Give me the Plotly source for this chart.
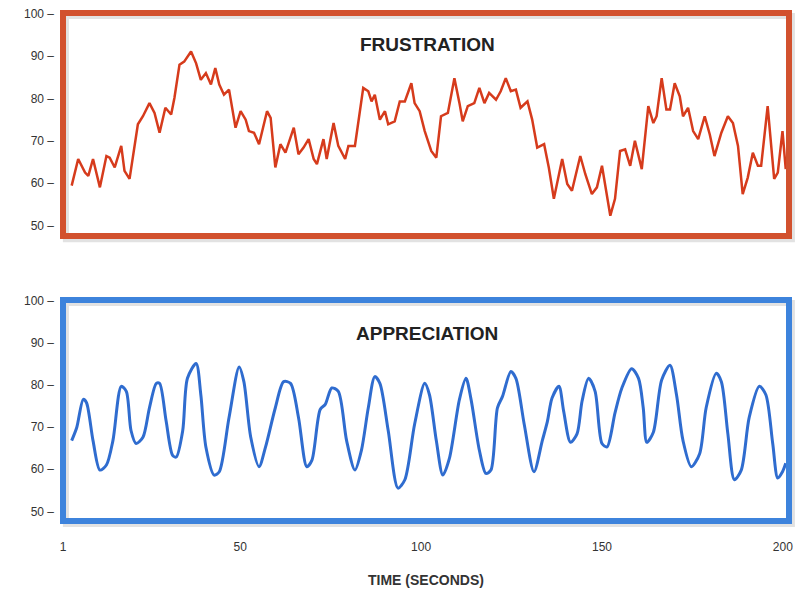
import plotly.graph_objects as go

# ---- data ----
time_frus = [3.4,5.2,7.1,8.0,9.3,11.2,13.0,13.9,15.3,17.1,18.0,19.4,21.7,23.1,24.9,26.3,27.7,29.3,30.9,31.8,
             33.2,34.5,36.4,37.8,39.1,40.5,41.9,43.1,44.2,45.5,46.9,48.7,50.1,51.5,52.4,53.8,55.2,57.4,58.4,59.7,
             61.1,62.5,64.8,66.1,67.5,68.9,70.3,71.2,73.0,73.9,75.8,77.1,79.0,79.9,81.7,84.0,85.4,86.3,87.2,88.6,
             90.0,90.9,92.7,94.1,95.5,97.3,98.2,99.6,101.0,102.8,104.2,105.5,107.4,109.2,110.6,111.5,112.9,114.7,116.1,117.5,
             118.8,120.7,122.0,123.4,124.8,126.2,127.5,129.4,130.7,132.1,134.0,135.3,136.7,138.1,139.0,140.4,141.7,144.0,145.4,147.2,
             148.6,150.0,152.3,153.6,155.0,156.4,157.8,159.1,161.0,162.8,164.2,165.1,166.5,167.8,168.8,170.1,171.5,172.4,173.8,175.2,
             176.6,178.4,179.8,181.1,183.0,184.8,186.2,187.6,188.9,190.3,191.7,193.1,194.0,195.8,197.6,198.6,199.9,200.8]
frustration = [59.4,65.7,62.5,61.7,65.7,59.0,66.4,66.0,63.7,68.8,62.9,61.0,73.9,75.8,78.9,76.6,71.9,77.8,76.2,80.1,
               88.0,88.7,91.1,88.3,84.4,86.0,83.3,87.2,83.3,80.9,82.1,73.1,77.0,75.0,72.3,71.9,69.2,77.0,75.4,63.7,
               69.2,67.2,73.1,66.8,68.4,70.4,65.7,64.5,70.4,65.7,74.2,68.8,65.7,68.8,68.8,82.5,81.7,79.3,80.9,75.0,
               77.0,73.9,74.6,79.3,79.3,83.6,78.9,77.0,72.3,67.6,66.0,75.8,76.6,84.8,78.9,74.6,78.2,78.9,82.5,78.9,
               81.3,79.7,81.7,84.8,81.7,82.1,77.8,79.3,75.0,68.4,69.2,63.7,56.3,62.1,65.7,59.8,58.2,66.4,62.1,57.4,
               59.0,64.1,52.3,56.3,67.6,68.0,64.1,70.0,63.3,78.2,74.2,75.8,84.8,77.4,77.4,83.6,80.5,75.8,77.8,72.3,
               70.4,75.8,71.5,66.4,71.9,75.8,74.2,68.8,57.4,61.3,67.2,64.1,64.1,78.2,61.0,62.5,72.3,63.3]

time_appr = [3.4,4.8,6.6,7.5,9.3,11.2,13.0,14.8,17.1,18.5,19.8,21.2,23.1,24.9,26.8,27.7,29.5,31.3,32.3,34.1,
             35.4,37.8,39.1,40.5,42.8,44.2,46.9,49.7,51.0,52.9,55.2,57.0,59.7,62.0,63.9,66.1,68.4,69.8,72.1,73.5,
             75.3,77.1,79.4,81.7,83.5,85.4,87.2,88.6,90.9,93.6,95.5,98.2,101.0,102.3,104.2,106.0,107.8,110.6,112.4,113.8,
             116.1,117.9,119.3,121.1,122.5,124.8,126.2,128.5,131.2,133.5,134.9,136.2,138.1,139.4,141.3,143.1,144.5,146.3,148.1,150.0,
             151.4,153.6,155.5,158.2,160.1,161.4,162.4,164.2,166.5,168.8,170.6,172.4,174.7,177.0,178.8,181.6,183.0,184.8,186.6,188.5,
             190.7,193.5,195.3,197.2,198.6,199.9,200.8]
appreciation = [66.8,69.9,76.6,75.8,66.8,59.8,61.0,66.8,79.7,78.5,69.2,66.1,67.6,74.6,80.4,80.4,71.5,63.3,62.9,69.2,
                81.6,85.1,77.7,65.3,58.6,59.4,72.3,84.3,80.8,67.6,60.6,65.3,74.6,80.8,80.4,72.3,60.6,62.1,74.2,75.4,
                79.3,78.5,66.8,59.8,64.5,74.6,82.0,80.4,69.2,55.5,57.5,70.7,80.4,77.7,66.8,58.6,62.5,76.6,81.6,76.6,
                64.5,59.0,59.8,74.6,77.3,83.2,81.6,70.7,59.4,66.8,71.3,76.9,79.7,73.8,66.4,68.4,76.2,81.6,78.5,66.1,
                65.3,73.4,79.3,83.9,81.6,74.6,66.4,68.8,81.2,84.7,77.7,66.8,60.6,63.7,74.6,82.8,80.8,68.4,57.5,59.8,
                72.3,79.7,77.7,66.1,57.9,59.4,61.4]

y_ticks = [50, 60, 70, 80, 90, 100]
y_tick_labels = ["50", "60", "70", "80", "90", "100"]
x_ticks = [1, 50, 100, 150, 200]
panel_titles = ["FRUSTRATION", "APPRECIATION"]
x_title = "TIME (SECONDS)"

RED = "#d2512e"
BLUE = "#3d83dc"
FONT = "Liberation Sans"

fig = go.Figure()
fig.add_trace(go.Scatter(x=time_frus, y=frustration, mode="lines",
                         line=dict(color="#d63b1c", width=2.5), xaxis="x", yaxis="y",
                         showlegend=False, hoverinfo="skip"))
fig.add_trace(go.Scatter(x=time_appr, y=appreciation, mode="lines",
                         line=dict(color="#2f6ccf", width=3, shape="spline", smoothing=0.8),
                         xaxis="x2", yaxis="y2", showlegend=False, hoverinfo="skip"))

yax = dict(tickmode="array", tickvals=y_ticks,
           ticktext=[t + " \u2013" for t in y_tick_labels],
           showgrid=False, zeroline=False, showline=False, ticks="",
           ticklabelstandoff=8,
           tickfont=dict(family=FONT, size=12, color="#333"))
xax = dict(range=[1, 201.7], showgrid=False, zeroline=False, showline=False)

fig.update_layout(
    width=800, height=600,
    margin=dict(l=63, r=7, t=13, b=79),
    paper_bgcolor="white", plot_bgcolor="white",
    xaxis=dict(**xax, domain=[0, 1], anchor="y", showticklabels=False, ticks=""),
    yaxis=dict(**yax, domain=[0.561, 1], range=[47.5, 100.2], anchor="x"),
    xaxis2=dict(**xax, domain=[0, 1], anchor="y2", tickmode="array", tickvals=x_ticks,
                ticks="outside", ticklen=15, tickcolor="rgba(0,0,0,0)",
                tickfont=dict(family=FONT, size=12, color="#333")),
    yaxis2=dict(**yax, domain=[0, 0.435], range=[47.7, 100.2], anchor="x2"),
)

# shadows + borders
for xr, yr, col in [("x domain", "y domain", RED), ("x2 domain", "y2 domain", BLUE)]:
    fig.add_shape(type="rect", xref=xr, yref=yr, x0=0.004, x1=1.004, y0=-0.014, y1=0.986,
                  line=dict(color="#e2e2e2", width=6), layer="below")
    fig.add_shape(type="rect", xref=xr, yref=yr, x0=0, x1=1, y0=0, y1=1,
                  line=dict(color=col, width=6), layer="above")

# panel titles
for (xr, yr), title, yy in zip([("x domain", "y domain"), ("x2 domain", "y2 domain")], panel_titles, [0.857, 0.85]):
    fig.add_annotation(text=title, xref=xr, yref=yr, x=0.502, y=yy, showarrow=False,
                       xanchor="center", yanchor="middle",
                       font=dict(family=FONT, size=19, color="#222", weight="bold"))

fig.add_annotation(text=x_title, xref="paper", yref="paper", x=0.5, y=-0.116, showarrow=False,
                   xanchor="center", yanchor="middle",
                   font=dict(family=FONT, size=14, color="#333", weight="bold"))

fig.write_html("out.html")
